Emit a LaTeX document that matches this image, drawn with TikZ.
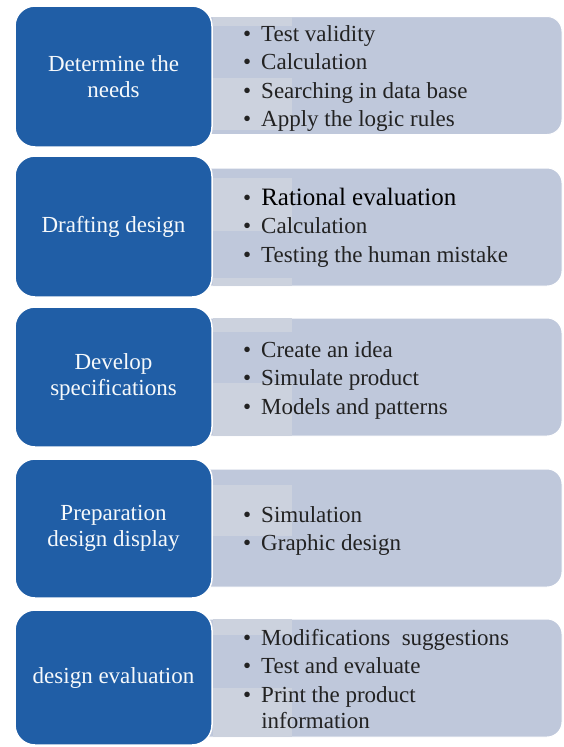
\documentclass[tikz,border=0pt]{standalone}
\usepackage{fontspec}
\setmainfont{Liberation Serif}
\usepackage{xcolor}
\usepackage{tikz}

\definecolor{stageblue}{HTML}{205EA6}
\definecolor{taskgray}{HTML}{BFC8DB}
\definecolor{taskpale}{HTML}{CCD2DE}
\definecolor{taskink}{HTML}{222222}

% bullet list: bullet column + text column
\newcommand{\tasklist}[1]{\begin{tabular}[t]{@{}l@{\hspace{10pt}}l@{}}#1\end{tabular}}

\begin{document}
\begin{tikzpicture}[
  x=1pt, y=-1pt,
  stage/.style={rounded corners=20pt, fill=stageblue, draw=white, line width=1.5pt,
    minimum width=197pt, inner sep=0pt, outer sep=0pt, align=center,
    text=white!96!stageblue, font=\fontsize{23}{26}\selectfont},
  tasks/.style={rounded corners=15pt, fill=taskgray, draw=white, line width=1pt,
    minimum width=372pt, minimum height=118pt, inner sep=0pt, outer sep=0pt},
  items/.style={anchor=base west, inner sep=0pt, text=taskink,
    font=\fontsize{23}{28.5}\selectfont}
]
  \useasboundingbox (0,0) rectangle (563,747);

  % grey panels behind the stages
  \node[tasks] (needs-box)   at (376,75.5) {};
  \node[tasks] (draft-box)   at (376,227)  {};
  \node[tasks] (spec-box)    at (376,377)  {};
  \node[tasks] (display-box) at (376,528)  {};
  \node[tasks] (eval-box)    at (376,678)  {};

  % lighter patches near the stage edge
  \foreach \ya/\yb in {17/26, 78/130, 178/231, 278/286, 318/332,
                       383/436, 485/536, 619/635, 688/737}
    \fill[taskpale] (213,\ya) rectangle (292,\yb);

  % stages
  \node[stage, minimum height=141pt] (needs)   at (113.5,76.5)  {Determine the\\needs};
  \node[stage, minimum height=141pt] (draft)   at (113.5,226.5) {Drafting design};
  \node[stage, minimum height=140pt] (spec)    at (113.5,377)   {Develop\\specifications};
  \node[stage, minimum height=139pt] (display) at (113.5,528.5) {Preparation\\design display};
  \node[stage, minimum height=135pt] (eval)    at (113.5,677.5) {design evaluation};

  % task lists
  \node[items] (needs-list) at (243,41) {\tasklist{
    • & Test validity\\
    • & Calculation\\
    • & Searching in data base\\
    • & Apply the logic rules}};
  \node[items] (draft-list) at (243,205) {\tasklist{
    • & {\color{black}\fontsize{25}{28.5}\selectfont Rational evaluation}\\
    • & Calculation\\
    • & Testing the human mistake}};
  \node[items] (spec-list) at (243,357) {\tasklist{
    • & Create an idea\\
    • & Simulate product\\
    • & Models and patterns}};
  \node[items] (display-list) at (243,522) {\tasklist{
    • & Simulation\\
    • & Graphic design}};
  \node[items] (eval-list) at (243,645) {\tasklist{
    • & Modifications\ \ suggestions\\
    • & Test and evaluate\\
    • & Print the product\\[-2pt]
      & information}};
\end{tikzpicture}
\end{document}
